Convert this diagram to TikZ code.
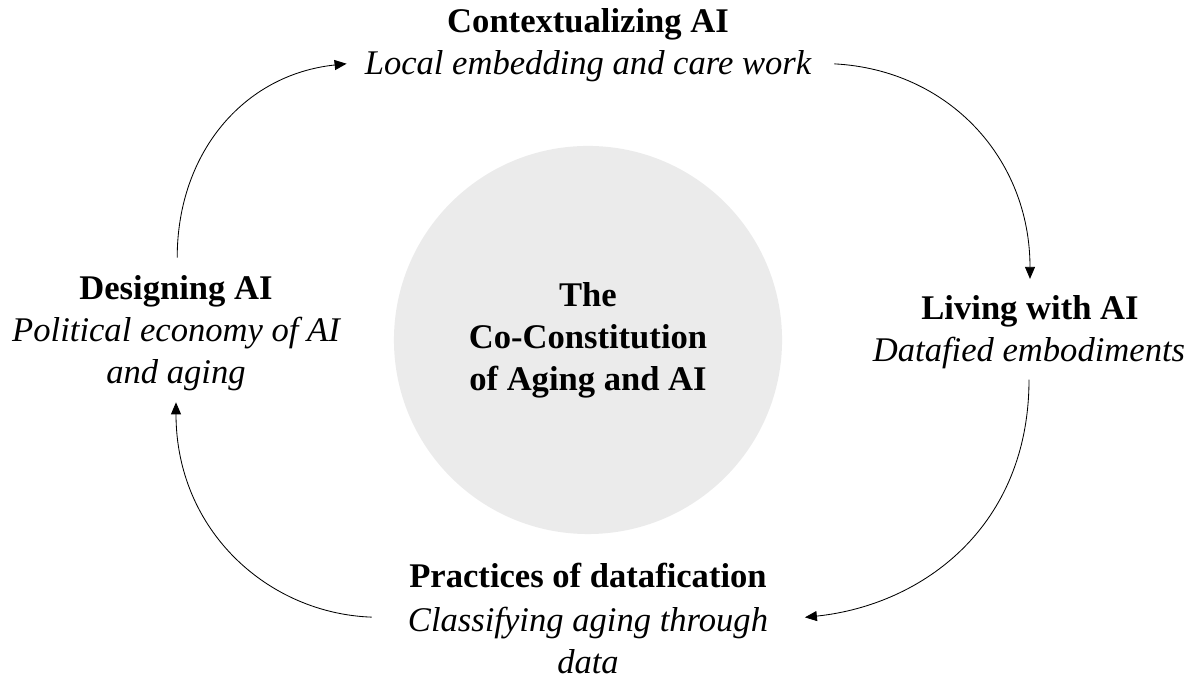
\documentclass[tikz,border=0pt]{standalone}
\usepackage{fontspec}
\setmainfont{Liberation Serif}
\usepackage{tikz}
\usetikzlibrary{arrows.meta}
\usepackage{xcolor}
\definecolor{coregray}{HTML}{EBEBEB}
\tikzset{%
	stage title/.style={
		font=\fontsize{24.6}{29.9}\selectfont\bfseries,
		inner sep=0pt,
		anchor=base
	},
	stage text/.style={
		font=\fontsize{24.6}{29.9}\selectfont\itshape,
		inner sep=0pt,
		align=center
	},
	core/.style={
		circle,
		fill=coregray,
		minimum size=9.7cm,
		align=center,
		font=\fontsize{24.6}{29.9}\selectfont\bfseries
	},
	cycle arrow/.style={
		-{Triangle[length=3mm,width=2.5mm]},
		line width=0.6pt,
		looseness=1.1
	},
}

\begin{document}
\begin{tikzpicture}[x=0.025cm,y=0.025cm]
			\useasboundingbox (0,0) rectangle (1197,681);
			
			% Draw the circle in the middle
			\node[core] (core) at (588,341) {The\\Co-Constitution\\of Aging and AI};
			
			% Draw the four stages
			\node[stage title] (ctx) at (588,648) {Contextualizing AI};
			\node[stage text, anchor=base] (ctxsub) at (588,606) {Local embedding and care work};
			
			\node[stage title] (liv) at (1030,361) {Living with AI};
			\node[stage text, anchor=base] (livsub) at (1029,319) {Datafied embodiments};
			
			\node[stage title] (prac) at (588,93) {Practices of datafication};
			\node[stage text, anchor=north] (pracsub) at (588,74.6) {Classifying aging through\\data};
			
			\node[stage title] (des) at (176,381) {Designing AI};
			\node[stage text] (dessub) at (176,327) {Political economy of AI\\and aging};
			
			% Draw the arrows
			\draw[cycle arrow, shorten <=0.45cm, shorten >=0.45cm] ([xshift=0.03cm]des.north) to[out=90, in=186] ([yshift=0.12cm]ctxsub.west);
			\draw[cycle arrow, shorten <=0.57cm, shorten >=0.42cm] ([yshift=0.1cm]ctxsub.east) to[out=-3, in=90] (liv.north);
			\draw[cycle arrow, shorten <=0.25cm, shorten >=0.92cm] (livsub.south) to[out=-90, in=6] ([yshift=-0.37cm]pracsub.north east);
			\draw[cycle arrow, shorten <=0.9cm, shorten >=0.28cm] ([yshift=-0.3cm]pracsub.north west) to[out=178, in=-90] (dessub.south);
		\end{tikzpicture}
\end{document}
